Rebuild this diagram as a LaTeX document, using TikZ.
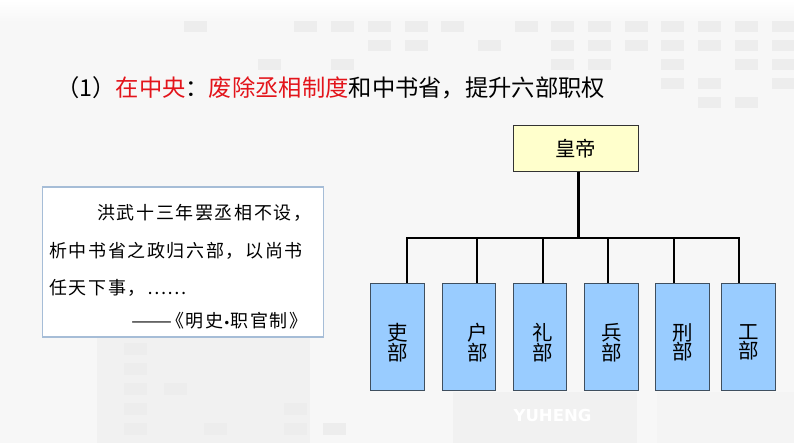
\documentclass[tikz,border=0pt]{standalone}
\usepackage{fontspec}
\setmainfont{Noto Sans CJK SC}
\newfontfamily\quotefont[LetterSpace=9]{Noto Sans CJK SC}
\newfontfamily\bulletfont{DejaVu Sans}
\newfontfamily\wmfont{DejaVu Sans}
\definecolor{titlered}{HTML}{E3141B}
\definecolor{bggray}{HTML}{F7F7F7}
\definecolor{sqgray}{HTML}{EDEDED}
\definecolor{bandgray}{HTML}{F1F1F1}
\definecolor{qborder}{HTML}{A6BDD7}
\definecolor{empfill}{HTML}{FFFFCC}
\definecolor{boxblue}{HTML}{99CCFF}
\definecolor{boxedge}{HTML}{3F4F5F}
\begin{document}
\begin{tikzpicture}[x=1pt,y=-1pt,
  sq/.style={fill=sqgray,draw=none},
  quotebox/.style={draw=qborder,line width=1.3pt,fill=white,minimum width=280.6pt,minimum height=150pt,inner sep=0pt},
  qline/.style={inner sep=0pt,font=\quotefont\fontsize{18}{18}\selectfont},
  empbox/.style={draw=black!80,line width=0.9pt,fill=empfill,minimum width=125pt,minimum height=46.7pt,inner sep=0pt,font=\fontsize{20.5}{20.5}\selectfont},
  dept/.style={draw=boxedge,line width=0.9pt,fill=boxblue,minimum width=53.6pt,minimum height=106.7pt,inner sep=0pt},
  deptlabel/.style={inner sep=0pt,align=center,font=\fontsize{20.5}{19.5}\selectfont},
  link/.style={line width=2.4pt,black},
]
\useasboundingbox (0,0) rectangle (794,447);
% background
\fill[bggray] (0,0) rectangle (794,447);
\shade[top color=white,bottom color=bggray] (0,0) rectangle (794,22);
\fill[bandgray] (97,337) rectangle (310,443);
\fill[bandgray] (453,392) rectangle (637,443);
\fill[bandgray!60!bggray] (657,392) rectangle (794,443);
\fill[white] (0,443) rectangle (794,447);
% decorative squares, top right
\foreach \k/\r in {0/1,3/1,4/1,5/1,6/1,7/1,9/1,10/1,11/1,12/1,13/1,14/1,15/1,16/1,
  5/2,6/2,8/2,10/2,11/2,12/2,13/2,14/2,15/2,16/2,
  2/3,4/3,10/3,11/3,13/3,15/3,16/3,
  13/4,14/4,16/4,
  14/5,15/5}
  \fill[sq] ({184.3+36.7*\k},{20.7+19*(\r-1)}) rectangle ++(23,11.5);
% decorative squares, bottom left
\foreach \k/\r in {0/1,0/2,0/3,1/3,0/4,4/4,0/5,2/5,4/5,5/5}
  \fill[sq] ({124.3+39.8*\k},{343+20*(\r-1)}) rectangle ++(23,11.5);

% title
\node[anchor=west,inner sep=0pt,font=\fontsize{23.3}{23.3}\selectfont] (title) at (56,88)
  {（1）\textcolor{titlered}{在中央}：\textcolor{titlered}{废除丞相制度}和中书省，提升六部职权};

% quotation box
\node[quotebox] (qbox) at (183,262) {};
\node[qline,anchor=west] (q1) at (97,212.5) {洪武十三年罢丞相不设，};
\node[qline,anchor=west] (q2) at (49,250.8) {析中书省之政归六部，以尚书};
\node[qline,anchor=west] (q3) at (49,287.5) {任天下事，……};
\node[qline,anchor=west] (q4) at (131,320.7) {\makebox[35pt][l]{\resizebox{41pt}{\height}{——}}《明史{\bulletfont\fontsize{12}{12}\selectfont •}职官制》};

% org chart
\node[empbox] (emp) at (575.8,148.3) {皇帝};
\node[dept] (b1) at (397.5,336.7) {};
\node[dept] (b2) at (469.0,336.7) {};
\node[dept] (b3) at (540.0,336.7) {};
\node[dept] (b4) at (611.3,336.7) {};
\node[dept] (b5) at (682.7,336.7) {};
\node[dept] (b6) at (748.2,336.7) {};
\node[deptlabel] (l1) at (397.5,342.5) {吏\\部};
\node[deptlabel] (l2) at (477.8,342.5) {户\\部};
\node[deptlabel] (l3) at (543.0,342.5) {礼\\部};
\node[deptlabel] (l4) at (611.7,342.5) {兵\\部};
\node[deptlabel] (l5) at (682.8,342.5) {刑\\部};
\node[deptlabel] (l6) at (748.8,342.5) {工\\部};

\coordinate (hub) at (578.3,237.7);
\coordinate (d1) at (406.7,237.7);
\coordinate (d2) at (477.0,237.7);
\coordinate (d3) at (542.7,237.7);
\coordinate (d4) at (608.0,237.7);
\coordinate (d5) at (673.7,237.7);
\coordinate (d6) at (739.0,237.7);

\draw[link] (emp.south -| hub) -- (hub);
\draw[link,line join=miter] (b1.north -| d1) -- (d1) -- (d6) -- (b6.north -| d6);
\draw[link] (d2) -- (b2.north -| d2);
\draw[link] (d3) -- (b3.north -| d3);
\draw[link] (d4) -- (b4.north -| d4);
\draw[link] (d5) -- (b5.north -| d5);

% watermark
\node[inner sep=0pt,text=white,font=\wmfont\bfseries\fontsize{16.5}{16.5}\selectfont] (wm) at (552.5,415.5) {YUHENG};
\end{tikzpicture}
\end{document}
